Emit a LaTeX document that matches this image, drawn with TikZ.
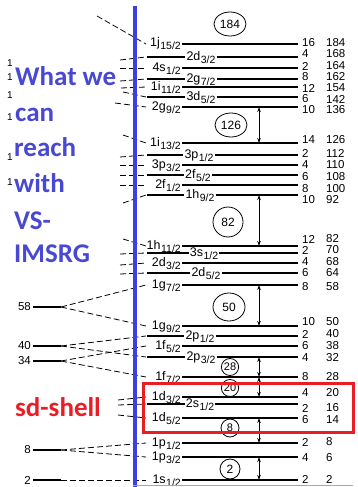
\documentclass[tikz,border=0pt]{standalone}
\usepackage{fontspec}
\setmainfont{Liberation Sans}
\newfontfamily\calfont{Carlito}
\usetikzlibrary{arrows.meta,shapes.geometric}
\definecolor{vsblue}{RGB}{72,72,210}
\definecolor{axisblue}{RGB}{60,64,222}
\definecolor{sdred}{RGB}{236,28,36}
\newcommand{\lvsub}[1]{\kern0.5pt\raisebox{-3pt}{\fontsize{10.5}{11}\selectfont #1}}
\tikzset{
  shellline/.style={line width=1.2pt},
  orb/.style={font=\fontsize{12.5}{13}\selectfont, inner sep=1pt},
  num/.style={font=\fontsize{11.5}{12}\selectfont, inner sep=0pt},
  osc/.style={line width=0.8pt, dash pattern=on 6pt off 3pt},
  magic/.style={draw, ellipse, line width=0.8pt, fill=white, inner sep=0pt, font=\fontsize{12}{12}\selectfont},
  gaparrow/.style={line width=0.8pt, {Stealth[length=5pt,width=3.5pt]}-{Stealth[length=5pt,width=3.5pt]}},
  bigtxt/.style={font=\calfont\bfseries\fontsize{27}{27}\selectfont, anchor=base west, inner sep=0pt},
}
\begin{document}
\begin{tikzpicture}[x=1pt, y=-1pt]
    \useasboundingbox (0,0) rectangle (358,487);
    % 能级线与轨道标签
    \foreach \yy/\nm/\jj/\col/\lx [count=\i] in {44/1j/15/1/182, 57/2d/3/2/201, 68/4s/1/1/182, 79/2g/7/2/201, 87/1i/11/1/182, 97/3d/5/2/201, 107/2g/9/1/182, 143/1i/13/1/182, 155/3p/1/2/199, 165/3p/3/1/182, 175/2f/5/2/198, 185/2f/1/1/182, 195/1h/9/2/200, 246/1h/11/1/182, 253/3s/1/2/204, 263/2d/3/1/182, 273/2d/5/2/206, 285/1g/7/1/182, 326/1g/9/1/182, 336/2p/1/2/200, 346/1f/5/1/182, 357/2p/3/2/201, 377/1f/7/1/182, 397/1d/3/1/182, 404/2s/1/2/200, 418/1d/5/1/182, 443/1p/1/1/182, 457/1p/3/1/182, 480/1s/1/1/182}{
        \coordinate (e\i) at (146,\yy);
        \coordinate (a\i) at (259,\yy);
        \coordinate (r\i) at (298,\yy);
        \ifnum\col=1
            \node[orb, anchor=base east] (o\i) at (\lx,\yy+3) {\nm\lvsub{\jj/2}};
            \draw[shellline] (o\i.east |- a\i) -- (r\i);
        \else
            \node[orb, anchor=base] (o\i) at (\lx,\yy+3) {\nm\lvsub{\jj/2}};
            \draw[shellline] (147,\yy) -- (o\i.west |- a\i);
            \draw[shellline] (o\i.east |- a\i) -- (r\i);
        \fi
    }
    % 简并度与累计数
    \foreach \yy/\dg/\tot [count=\i] in {43/16/184, 54/4/168, 66/2/164, 77/8/162, 88/12/154, 99/6/142, 110/10/136, 140/14/126, 153/2/112, 165/4/110, 177/6/108, 189/8/100, 200/10/92, 239/12/82, 250/2/70, 262/4/68, 273/6/64, 287/8/58, 322/10/50, 334/2/40, 346/6/38, 358/4/32, 377/8/28, 393/4/20, 408/2/16, 420/6/14, 442/2/8, 458/4/6, 479/2/2}{
        \node[num, anchor=west] (d\i) at (302,\yy) {\dg};
        \node[num, anchor=west] (t\i) at (326,\yy) {\tot};
    }
    % 被遮住的振子能级（只剩短虚线）
    \foreach \sx/\sy/\k in {97/16/1, 120/60/2, 120/68/3, 120/81/4, 121/88/5, 123/92/6, 115/103/7, 123/135/8, 120/157/9, 120/165/10, 120/175/11, 120/185/12, 123/203/13, 123/239/14, 120/254/15, 120/265/16, 120/274/17, 118/400/24, 118/405/25, 118/415/26}{
        \coordinate (s\k) at (\sx,\sy);
        \draw[osc] (s\k) -- (e\k);
    }
    % 振子能级 58, 40, 34, 8, 2
    \node[num, anchor=east, inner sep=2pt] (n58) at (33,307) {58};
    \node[num, anchor=east, inner sep=2pt] (n40) at (33,346) {40};
    \node[num, anchor=east, inner sep=2pt] (n34) at (33,361) {34};
    \node[num, anchor=east, inner sep=2pt] (n8) at (33,450) {8};
    \node[num, anchor=east, inner sep=2pt] (n2) at (33,480) {2};
    \foreach \n in {58,40,34,8,2}{
        \coordinate (f\n) at ([xshift=28pt]n\n.east);
        \draw[shellline] (n\n.east) -- (f\n);
    }
    \draw[osc] (f58) -- (e18);
    \draw[osc] (f58) -- (e19);
    \draw[osc] (f40) -- (e20);
    \draw[osc] (f40) -- (e22);
    \draw[osc] (f34) -- (e21);
    \draw[osc] (f34) -- (e23);
    \draw[osc] (f8) -- (e27);
    \draw[osc] (f8) -- (e28);
    \draw[osc] (f2) -- (e29);
    % 幻数
    \node[magic, minimum width=32pt, minimum height=24pt] (m184) at (230,24) {184};
    \node[magic, minimum width=32pt, minimum height=24pt] (m126) at (231,125) {126};
    \node[magic, minimum width=30pt, minimum height=30pt] (m82) at (228,222) {82};
    \node[magic, minimum width=32pt, minimum height=28pt] (m50) at (229,307) {50};
    \node[magic, minimum width=17pt, minimum height=17pt, font=\fontsize{11}{11}\selectfont] (m28) at (230,367) {28};
    \node[magic, minimum width=17pt, minimum height=17pt, font=\fontsize{11}{11}\selectfont] (m20) at (230,388) {20};
    \node[magic, minimum width=18pt, minimum height=18pt, font=\fontsize{11}{11}\selectfont] (m8) at (230,428) {8};
    \node[magic, minimum width=20pt, minimum height=20pt] (m2) at (230,469) {2};
    % 能隙箭头
    \draw[gaparrow] (a7) -- (a8);
    \draw[gaparrow] (a13) -- (a14);
    \draw[gaparrow] (a18) -- (a19);
    \draw[gaparrow] (a22) -- (a23);
    \draw[gaparrow] (a23) -- (a24);
    \draw[gaparrow] (a26) -- (a27);
    \draw[gaparrow] (a28) -- (a29);
    % sd 壳层框
    \draw[sdred, line width=3pt] (143,383) rectangle (353,432);
    % 蓝色竖线
    \draw[axisblue, line width=4.5pt] (135,6) -- (135,487);
    \draw[axisblue!50, line width=0.8pt] (133,485.5) -- (353,485.5);
    % 残留数字
    \foreach \yy [count=\i] in {63,77,95,117,157,182}{
        \node[num, font=\fontsize{10}{10}\selectfont] (k\i) at (10,\yy) {1};
    }
    % 左侧文字
    \node[bigtxt, vsblue] (w1) at (15,85) {What we};
    \node[bigtxt, vsblue] (w2) at (15,121) {can};
    \node[bigtxt, vsblue] (w3) at (14,156) {reach};
    \node[bigtxt, vsblue] (w4) at (14,192) {with};
    \node[bigtxt, vsblue] (w5) at (14,229) {VS-};
    \node[bigtxt, vsblue] (w6) at (14,262) {IMSRG};
    \node[bigtxt, sdred] (sd) at (15,416) {sd-shell};
\end{tikzpicture}
\end{document}
